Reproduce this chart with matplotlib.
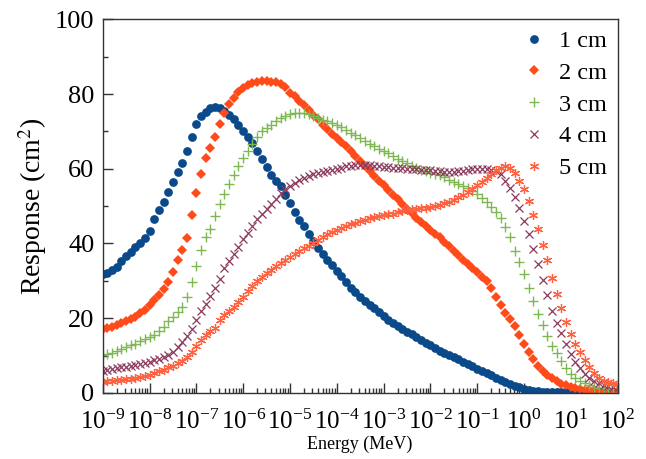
import numpy as np
import matplotlib

matplotlib.use("Agg")
import matplotlib.pyplot as plt
from matplotlib.ticker import LogLocator, MultipleLocator, NullFormatter

plt.rcParams["font.family"] = ["Liberation Serif", "DejaVu Serif"]
plt.rcParams["mathtext.fontset"] = "stix"

# energy grid: 10 points per decade, 1e-9 .. 1e2 MeV
log_energy = np.linspace(-9, 2, 111)
energy = 10.0 ** log_energy

resp_1cm = [
    31.8, 32.2, 32.9, 33.8, 35.3, 36.6, 37.6, 39.0, 40.2, 41.5,
    43.3, 46.6, 49.0, 51.1, 53.7, 56.4, 59.2, 61.6, 64.8, 68.6,
    72.0, 74.0, 75.1, 76.2, 76.6, 76.3, 75.4, 74.4, 73.4, 71.8,
    70.2, 68.5, 66.8, 64.7, 62.5, 60.4, 58.2, 56.7, 55.3, 53.0,
    50.8, 48.4, 46.4, 44.8, 42.6, 40.6, 38.9, 37.2, 35.5, 34.1,
    32.6, 31.2, 29.7, 28.2, 27.0, 25.7, 24.6, 23.6, 22.6, 21.6,
    20.5, 19.6, 18.7, 18.0, 17.1, 16.4, 15.7, 15.0, 14.2, 13.4,
    12.7, 12.0, 11.3, 10.7, 10.2, 9.6, 9.0, 8.4, 7.8, 7.1,
    6.5, 5.9, 5.3, 4.7, 4.1, 3.5, 2.9, 2.4, 1.9, 1.5,
    1.1, 0.8, 0.6, 0.45, 0.35, 0.3, 0.25, 0.2, 0.2, 0.2,
    0.15, 0.15, 0.15, 0.15, 0.15, 0.15, 0.15, 0.15, 0.15, 0.15,
    0.15,
]
resp_2cm = [
    17.0, 17.3, 17.7, 18.1, 18.6, 19.2, 19.8, 20.4, 21.3, 22.2,
    23.5, 24.8, 26.2, 27.9, 29.8, 32.3, 35.5, 38.3, 41.5, 47.5,
    53.5, 58.7, 62.9, 65.6, 68.5, 72.0, 75.0, 77.2, 79.0, 80.5,
    81.5, 82.3, 83.0, 83.3, 83.4, 83.4, 83.3, 83.3, 82.8, 81.8,
    80.4, 79.4, 78.1, 77.0, 75.8, 74.5, 73.3, 71.8, 70.6, 69.4,
    68.2, 67.2, 66.0, 64.8, 63.5, 62.2, 60.8, 59.3, 58.0, 56.8,
    55.6, 54.3, 53.0, 51.8, 50.5, 49.3, 48.1, 46.9, 45.7, 44.6,
    43.6, 42.6, 41.6, 40.4, 39.3, 38.0, 36.8, 35.6, 34.5, 33.4,
    32.3, 31.0, 30.0, 28.0, 25.8, 23.5, 21.5, 19.8, 17.8, 15.6,
    13.1, 11.0, 9.2, 7.3, 5.9, 4.8, 3.9, 3.2, 2.5, 2.0,
    1.6, 1.3, 1.1, 0.9, 0.8, 0.7, 0.6, 0.6, 0.5, 0.5,
    0.5,
]
resp_3cm = [
    10.2, 10.4, 10.7, 11.2, 11.7, 12.3, 12.8, 13.2, 13.8, 14.4,
    14.9, 15.5, 16.5, 17.7, 19.2, 20.4, 21.6, 23.0, 25.8, 29.6,
    34.0, 38.2, 41.8, 44.0, 47.3, 50.5, 53.3, 55.9, 58.3, 60.7,
    63.0, 64.8, 66.6, 68.6, 70.0, 70.8, 71.6, 72.8, 73.5, 74.1,
    74.6, 74.9, 74.9, 74.9, 74.6, 74.0, 73.5, 73.1, 72.7, 72.3,
    71.7, 71.2, 70.4, 69.5, 68.9, 68.3, 67.5, 66.7, 66.0, 65.4,
    64.8, 64.1, 63.4, 62.7, 62.0, 61.4, 60.7, 60.1, 59.7, 59.3,
    58.9, 58.6, 58.2, 57.7, 57.1, 56.4, 55.8, 55.3, 54.8, 54.0,
    53.3, 52.1, 51.2, 49.8, 48.3, 46.8, 44.4, 41.6, 37.9, 35.0,
    31.8, 28.1, 24.5, 21.1, 18.1, 15.3, 12.6, 10.6, 8.6, 6.6,
    5.1, 4.1, 3.2, 2.6, 2.0, 1.7, 1.4, 1.2, 1.1, 1.0,
    1.0,
]
resp_4cm = [
    5.9, 6.1, 6.3, 6.6, 6.9, 7.0, 7.3, 7.5, 7.7, 7.9,
    8.2, 8.7, 9.0, 9.5, 10.2, 11.0, 12.2, 13.5, 15.1, 17.1,
    19.5, 21.9, 23.8, 25.9, 28.1, 30.6, 33.3, 35.4, 37.3, 39.1,
    41.1, 42.9, 44.8, 46.5, 48.0, 49.3, 50.6, 52.0, 53.4, 54.5,
    55.4, 56.3, 57.0, 57.6, 58.1, 58.5, 58.8, 59.1, 59.4, 59.7,
    60.0, 60.3, 60.6, 60.7, 60.9, 60.9, 60.9, 60.9, 60.8, 60.6,
    60.5, 60.4, 60.3, 60.3, 60.2, 60.0, 59.9, 59.8, 59.6, 59.6,
    59.6, 59.5, 59.3, 59.1, 59.1, 59.2, 59.4, 59.5, 59.7, 59.8,
    59.8, 59.8, 59.8, 59.6, 59.3, 58.5, 56.8, 54.8, 52.4, 49.6,
    46.1, 42.6, 38.6, 34.5, 30.3, 26.3, 22.0, 18.7, 16.1, 13.1,
    10.3, 8.3, 6.6, 5.1, 4.1, 3.2, 2.6, 2.2, 1.8, 1.6,
    1.5,
]
resp_5cm = [
    3.0, 3.1, 3.3, 3.4, 3.5, 3.6, 3.8, 4.0, 4.2, 4.5,
    4.9, 5.3, 5.8, 6.2, 6.8, 7.3, 7.9, 8.6, 9.6, 11.0,
    12.5, 14.1, 15.4, 16.6, 17.5, 19.5, 20.8, 22.0, 23.1, 24.3,
    25.7, 27.3, 28.7, 29.9, 31.0, 32.0, 33.0, 34.0, 34.8, 35.7,
    36.4, 37.2, 38.1, 38.7, 39.4, 40.2, 41.0, 41.7, 42.4, 43.0,
    43.6, 44.2, 44.7, 45.2, 45.6, 46.0, 46.4, 46.8, 47.1, 47.4,
    47.6, 47.8, 48.0, 48.3, 48.6, 48.9, 49.1, 49.3, 49.5, 49.6,
    49.8, 50.0, 50.3, 50.7, 51.1, 51.7, 52.3, 53.0, 53.9, 54.7,
    55.6, 56.5, 57.5, 58.6, 59.6, 60.3, 60.7, 60.3, 58.8, 56.6,
    54.7, 51.3, 47.7, 43.8, 39.7, 35.5, 30.8, 26.5, 22.8, 19.0,
    15.8, 13.2, 10.9, 8.8, 6.8, 5.2, 4.0, 3.3, 2.9, 2.6,
    2.4,
]

labels = ["1 cm", "2 cm", "3 cm", "4 cm", "5 cm"]

fig = plt.figure(figsize=(6.46, 4.59), dpi=100)
ax = fig.add_axes([0.159, 0.144, 0.797, 0.814])

ax.plot(energy, resp_1cm, ls="none", marker="o", ms=6.3, color="#0B4A8A",
        mew=0, label=labels[0])
ax.plot(energy, resp_2cm, ls="none", marker="D", ms=4.9, color="#FF4A1A",
        mew=0, label=labels[1])
ax.plot(energy, resp_3cm, ls="none", marker="+", ms=7, mew=1.0,
        color="#7DB852", label=labels[2])
ax.plot(energy, resp_4cm, ls="none", marker="x", ms=6.2, mew=0.9,
        color="#8C3A5C", label=labels[3])
ax.plot(energy, resp_5cm, ls="none", marker=(6, 2, 0), ms=6.5, mew=0.9,
        color="#FF6240", label=labels[4])

ax.set_xscale("log")
ax.set_xlim(1e-9, 1e2)
ax.set_ylim(0, 100)
ax.xaxis.set_major_locator(LogLocator(base=10, numticks=20))
ax.xaxis.set_minor_locator(LogLocator(base=10, subs=np.arange(2, 10), numticks=200))
ax.xaxis.set_minor_formatter(NullFormatter())
ax.yaxis.set_major_locator(MultipleLocator(20))
ax.yaxis.set_minor_locator(MultipleLocator(10))

ax.tick_params(which="both", direction="in", top=False, right=False,
               labelsize=18, color="#333333")
ax.tick_params(axis="x", pad=12)
ax.tick_params(axis="y", labelsize=19, pad=6)
ax.tick_params(which="major", length=7, width=1)
ax.tick_params(which="minor", length=3.5, width=1)
for sp in ax.spines.values():
    sp.set_color("#333333")
    sp.set_linewidth(1.0)

ax.set_xlabel("Energy (MeV)", fontsize=13, labelpad=1)
ax.set_ylabel("Response (cm$^2$)", fontsize=20, labelpad=4)

ax.legend(loc="upper right", frameon=False, fontsize=17.5, handlelength=0.8,
          handletextpad=0.6, labelspacing=0.4, borderaxespad=0.05)

fig.savefig("out.png", dpi=100)
